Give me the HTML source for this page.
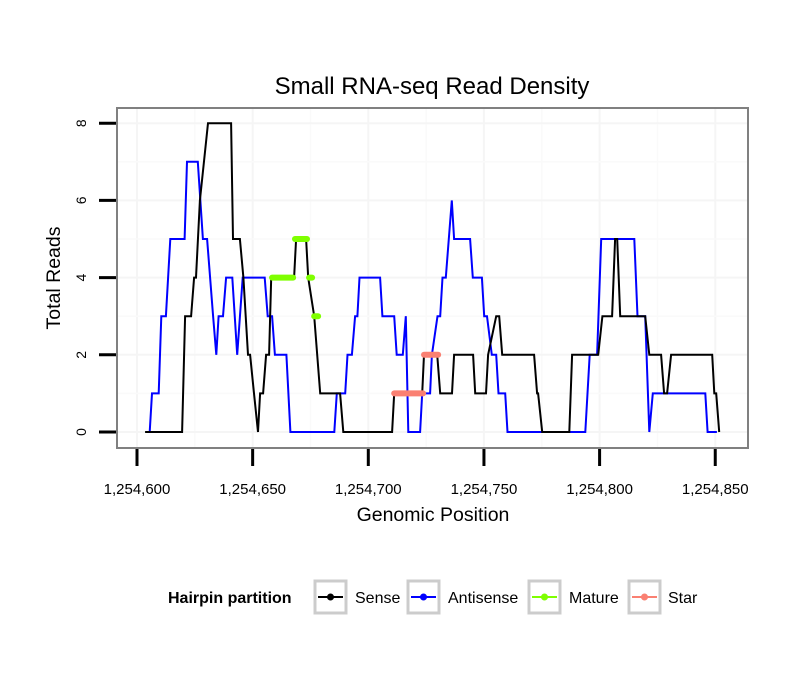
<!DOCTYPE html>
<html><head><meta charset="utf-8"><style>
body{margin:0;background:#fff;}
svg{display:block;font-family:"Liberation Sans",sans-serif;}
</style></head><body>
<svg id="chart" width="810" height="690">
<text x="432" y="94" font-size="24" text-anchor="middle">Small RNA-seq Read Density</text>
<g id="grid"></g>
<g id="series"></g>
<rect x="117" y="108" width="631" height="340" fill="none" stroke="#808080" stroke-width="2"/>
<g id="axes"></g>
<text x="433" y="521" font-size="19.5" text-anchor="middle">Genomic Position</text>
<text transform="translate(60,278) rotate(-90)" font-size="19.5" text-anchor="middle">Total Reads</text>
<g>
<text x="168" y="603" font-size="16" font-weight="bold">Hairpin partition</text>
<g><rect x="315" y="581" width="31" height="32" fill="#fff" stroke="#cccccc" stroke-width="3"/><line x1="318" x2="343" y1="597" y2="597" stroke="#000" stroke-width="2"/><circle cx="330.5" cy="597" r="3.5" fill="#000"/><text x="355" y="603" font-size="16">Sense</text></g>
<g><rect x="408" y="581" width="31" height="32" fill="#fff" stroke="#cccccc" stroke-width="3"/><line x1="411" x2="436" y1="597" y2="597" stroke="#0000ff" stroke-width="2"/><circle cx="423.5" cy="597" r="3.5" fill="#0000ff"/><text x="448" y="603" font-size="16">Antisense</text></g>
<g><rect x="529" y="581" width="31" height="32" fill="#fff" stroke="#cccccc" stroke-width="3"/><line x1="532" x2="557" y1="597" y2="597" stroke="#7fff00" stroke-width="2"/><circle cx="544.5" cy="597" r="3.5" fill="#7fff00"/><text x="569" y="603" font-size="16">Mature</text></g>
<g><rect x="629" y="581" width="31" height="32" fill="#fff" stroke="#cccccc" stroke-width="3"/><line x1="632" x2="657" y1="597" y2="597" stroke="#fa8072" stroke-width="2"/><circle cx="644.5" cy="597" r="3.5" fill="#fa8072"/><text x="668" y="603" font-size="16">Star</text></g>
</g>
</svg>
<script>
const base = 1254600;
const xTicks = [0, 50, 100, 150, 200, 250];
const xTickLabels = ["1,254,600","1,254,650","1,254,700","1,254,750","1,254,800","1,254,850"];
const yTicks = [0, 2, 4, 6, 8];
const senseSeries = [[3.5,0],[19.5,0],[20.8,3],[23.4,3],[24.7,4],[25.5,4],[27.2,6],[30.7,8],[40.7,8],[41.5,5],[44.5,5],[46,4],[47,3],[48,2],[48.9,2],[50.6,1],[52.3,0],[53.2,1],[54.5,1],[55.8,2],[57.1,2],[58,4],[67.9,4],[68.8,5],[73.1,5],[74,4],[76.6,3],[79.2,1],[87.8,1],[89.2,0],[110.3,0],[111.2,1],[123.3,1],[124.1,2],[129.8,2],[131.1,1],[136.2,1],[137.1,2],[145.3,2],[146.2,1],[150.9,1],[151.8,2],[155.3,3],[156.6,3],[157.9,2],[171.7,2],[173,1],[173.4,1],[175.2,0],[186.9,0],[188.1,2],[199.4,2],[201.2,3],[205.4,3],[206.7,5],[207.6,5],[208.9,3],[219.7,3],[221.5,2],[226.6,2],[227.9,1],[229.2,1],[230.9,2],[248.7,2],[249.6,1],[250.4,1],[251.7,0]];
const antisenseSeries = [[5.5,0],[6.5,1],[9.4,1],[10.5,3],[12.5,3],[14.4,5],[20.6,5],[21.6,7],[26.3,7],[28.5,5],[30.3,5],[32.9,3],[34.3,2],[35.3,3],[37.2,3],[38.5,4],[41.2,4],[43.3,2],[45.7,4],[55.2,4],[56.5,3],[58.4,3],[59.6,2],[64.6,2],[66.3,0],[85.3,0],[86.4,1],[90,1],[91,2],[92.9,2],[94.3,3],[95.3,3],[96.2,4],[105.1,4],[106.1,3],[111.2,3],[112.3,2],[114.9,2],[116.2,3],[117.3,0],[122.4,0],[123.3,1],[126.7,1],[127.5,2],[129.9,3],[131.1,3],[132.1,4],[133.5,4],[136.1,6],[137.1,5],[144,5],[145.2,4],[149.1,4],[150.1,3],[151.3,3],[153.4,2],[155.3,2],[156.3,1],[159.2,1],[160.2,0],[193.8,0],[195.7,2],[198.9,2],[200.7,5],[215,5],[216.4,3],[219.7,3],[221.5,0],[223,1],[245.7,1],[246.7,0],[250.7,0]];
const matureSegments = [[58.4,67.5,4],[68.3,73.5,5],[74.4,75.7,4],[76.6,78.3,3]];
const starSegments = [[111.2,123.7,1],[124.1,130.2,2]];

const NS = "http://www.w3.org/2000/svg";
function xs(v){ return 137 + v*2.313; }
function ys(v){ return 432 - v*38.6; }
function mk(tag, attrs, parent){ const e=document.createElementNS(NS,tag); for(const k in attrs) e.setAttribute(k,attrs[k]); parent.appendChild(e); return e; }
const grid=document.getElementById('grid'), axes=document.getElementById('axes'), series=document.getElementById('series');

for(let v=-25; v<=275; v+=25){ const x=xs(v); if(x<118||x>747) continue;
  const g=mk('line',{x1:x,x2:x,y1:109,y2:447,stroke:v%50===0?'#f5f5f5':'#fafafa','stroke-width':v%50===0?2:1.5},grid);
  
   }
for(let v=-1; v<=9; v+=1){ const y=ys(v); if(y<109||y>447) continue;
  const g=mk('line',{x1:118,x2:747,y1:y,y2:y,stroke:v%2===0?'#f5f5f5':'#fafafa','stroke-width':v%2===0?2:1.5},grid);
  
   }

xTicks.forEach((t,i)=>{ const x=xs(t);
  const l=mk('line',{x1:x,x2:x,y1:449,y2:466,stroke:'#000','stroke-width':3},axes);
  
  
  const tx=mk('text',{x:x,y:494,'font-size':15,'text-anchor':'middle'},axes); tx.textContent=xTickLabels[i];
  
   });
yTicks.forEach(t=>{ const y=ys(t);
  const l=mk('line',{x1:99,x2:116,y1:y,y2:y,stroke:'#000','stroke-width':3},axes);
  
  
  const tx=mk('text',{transform:`translate(86,${y}) rotate(-90)`,'font-size':14,'text-anchor':'middle'},axes); tx.textContent=String(t);
  
   });

function path(data,color,name){ const d=data.map((p,i)=>(i?'L':'M')+xs(p[0]).toFixed(1)+' '+ys(p[1]).toFixed(1)).join(' ');
  const e=mk('path',{d:d,fill:'none',stroke:color,'stroke-width':2,'stroke-linejoin':'miter'},series);
  
   }
path(antisenseSeries,'#0000ff','antisense-line');
path(senseSeries,'#000000','sense-line');
function segs(data,color,name){ data.forEach(s=>{
  const e=mk('line',{x1:xs(s[0]),x2:xs(s[1]),y1:ys(s[2]),y2:ys(s[2]),stroke:color,'stroke-width':6,'stroke-linecap':'round'},series);
  
   }); }
segs(matureSegments,'#7fff00','mature-segment');
segs(starSegments,'#fa8072','star-segment');
</script>
</body></html>
